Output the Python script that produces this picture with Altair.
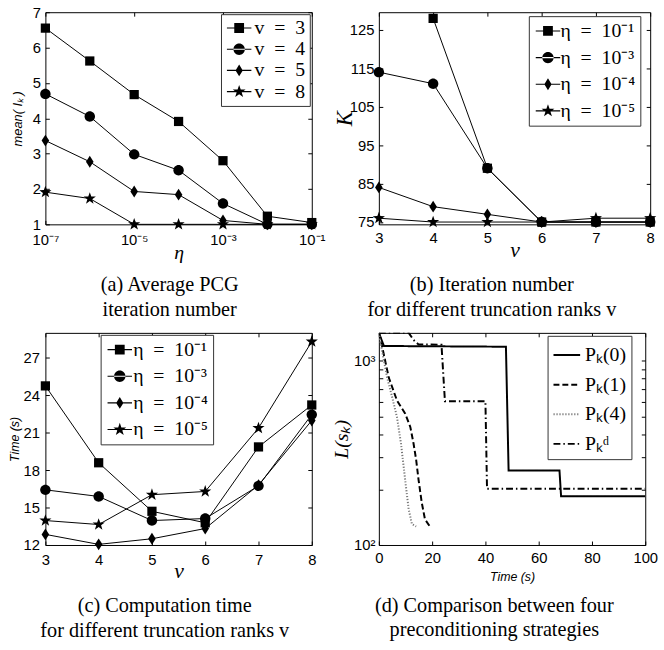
import math
import altair as alt
import pandas as pd

# ---------------- data ----------------
# (a) average PCG iteration number vs eta, for several truncation ranks v
a_eta = [1e-7, 1e-6, 1e-5, 1e-4, 1e-3, 1e-2, 1e-1]
a_v3 = [6.55, 5.62, 4.67, 3.91, 2.80, 1.23, 1.05]
a_v4 = [4.69, 4.05, 2.98, 2.53, 1.59, 1.00, 1.00]
a_v5 = [3.37, 2.77, 1.93, 1.84, 1.11, 1.00, 1.00]
a_v8 = [1.91, 1.73, 1.00, 1.00, 1.00, 1.00, 1.00]
a_names = ["v\u2002=\u20023", "v\u2002=\u20024", "v\u2002=\u20025", "v\u2002=\u20028"]

# (b) iteration number K vs v, (c) time vs v, for several eta
v_ranks = [3, 4, 5, 6, 7, 8]
b_e1 = [None, 128, 89, 75, 75, 75]
b_e3 = [114, 111, 89, 75, 75, 75]
b_e4 = [84, 79, 77, 75, 75, 75]
b_e5 = [76, 75, 75, 75, 76, 76]

c_e1 = [24.75, 18.59, 14.70, 13.78, 19.86, 23.22]
c_e3 = [16.42, 15.89, 13.96, 14.12, 16.74, 22.45]
c_e4 = [12.85, 12.05, 12.50, 13.32, 16.80, 21.98]
c_e5 = [13.96, 13.64, 16.03, 16.29, 21.37, 28.30]
eta_names = ["η\u2002=\u200210⁻¹", "η\u2002=\u200210⁻³", "η\u2002=\u200210⁻⁴", "η\u2002=\u200210⁻⁵"]

# (d) L(s_k) vs time for four preconditioning strategies
d_p0_t = [0, 1.9, 47.7, 48.7, 67.8, 68.4, 100]
d_p0_L = [1420, 1205, 1194, 254, 254, 184, 184]
d_p1_t = [0, 0.4, 3.7, 6.8, 9.9, 11.8, 13.0, 14.0, 14.9, 16.1, 17.3, 19.0]
d_p1_L = [1420, 1363, 813, 609, 517, 438, 357, 290, 226, 170, 138, 127]
d_p4_t = [0, 1.2, 3.1, 5.0, 6.8, 8.3, 9.3, 10.3, 11.2, 12.4, 14.0]
d_p4_L = [1420, 1132, 813, 635, 495, 356, 267, 200, 156, 130, 126]
d_pd_t = [0, 11.2, 13.0, 14.9, 23.5, 24.8, 40.0, 40.6, 100]
d_pd_L = [1420, 1420, 1300, 1229, 1225, 604, 604, 202, 202]
d_names = ["Pₖ(0)", "Pₖ(1)", "Pₖ(4)", "Pₖᵈ"]

captions = {
    "a": ["(a) Average PCG", "iteration number"],
    "b": ["(b) Iteration number", "for different truncation ranks v"],
    "c": ["(c) Computation time", "for different truncation ranks v"],
    "d": ["(d) Comparison between four", "preconditioning strategies"],
}

# ---------------- marker shapes ----------------
def star_path(cx, cy, r, ratio=0.4):
    pts = []
    for k in range(10):
        ang = math.radians(-90 + 36 * k)
        rr = r if k % 2 == 0 else r * ratio
        pts.append((cx + rr * math.cos(ang), cy + rr * math.sin(ang)))
    return "M" + "L".join(f"{x:.3f},{y:.3f}" for x, y in pts) + "Z"

def circle_path(cx, cy, r):
    return (f"M{cx - r:.3f},{cy}A{r},{r},0,1,0,{cx + r:.3f},{cy}"
            f"A{r},{r},0,1,0,{cx - r:.3f},{cy}Z")

def square_path(cx, cy, h):
    return f"M{cx - h:.3f},{cy - h:.3f}H{cx + h:.3f}V{cy + h:.3f}H{cx - h:.3f}Z"

def diamond_path(cx, cy, w, h):
    return f"M{cx:.3f},{cy - h:.3f}L{cx + w:.3f},{cy:.3f}L{cx:.3f},{cy + h:.3f}L{cx - w:.3f},{cy:.3f}Z"

MARKERS = [square_path(0, 0, 0.78), circle_path(0, 0, 0.88),
           diamond_path(0, 0, 0.64, 1.0), star_path(0, 0, 1.08)]
# legend symbol: a thin filled bar (the line) plus the marker in its middle
LINE = "M-1,-0.07H2.1V0.07H-1Z"
LC = 0.55
LEG_MARKERS = [LINE + square_path(LC, 0, 0.62), LINE + circle_path(LC, 0, 0.72),
               LINE + diamond_path(LC, 0, 0.46, 0.75), LINE + star_path(LC, 0, 0.85)]

SANS = "Liberation Sans"
SERIF = "Liberation Serif"
H = 215


def make_axis(values, length, pad, title, tfont, tsize, tstyle, labelExpr=None,
              titleX=None, titleY=None):
    kw = dict(values=values, title=title, grid=True, gridColor="black", gridWidth=1,
              gridOpacity=1, gridDash=[4, length - 8, 4, 5000], ticks=False, tickSize=0,
              domain=False, labelFont=SANS, labelFontSize=15, labelColor="black",
              labelPadding=pad, labelFlush=False, labelOverlap=False, labelBound=False,
              titleFont=tfont, titleFontSize=tsize, titleFontStyle=tstyle,
              titleFontWeight="normal", titleColor="black", titleBaseline="alphabetic")
    if labelExpr:
        kw["labelExpr"] = labelExpr
    if titleX is not None:
        kw["titleX"] = titleX
    if titleY is not None:
        kw["titleY"] = titleY
    return alt.Axis(**kw)


def legend_def(x, y, rowpad, laboff, pad):
    return alt.Legend(title=None, orient="none", legendX=x, legendY=y, direction="vertical",
                      labelFont=SERIF, labelFontSize=20, labelColor="black",
                      labelOffset=laboff, labelLimit=300, symbolSize=256,
                      symbolStrokeColor="black", symbolStrokeWidth=0.5, symbolOpacity=1,
                      symbolFillColor="black",
                      rowPadding=rowpad, padding=pad, strokeColor="#333",
                      fillColor="white", cornerRadius=0)


def caption(key, offset, dx):
    return alt.TitleParams(text=captions[key], orient="bottom", anchor="middle",
                           frame="group", font=SERIF, fontSize=20.5, fontWeight="normal",
                           color="black", lineHeight=25, offset=offset, dx=dx,
                           baseline="top")


def marker_panel(df, xenc, yenc, names, leg, width, cap):
    base = alt.Chart(df)
    line = base.mark_line(color="black", strokeWidth=1).encode(
        x=xenc, y=yenc, detail="series:N")
    pts = base.mark_point(filled=True, color="black", opacity=1, size=144).encode(
        x=xenc, y=yenc,
        shape=alt.Shape("series:N", scale=alt.Scale(domain=names, range=MARKERS), legend=None))
    legl = base.mark_point(filled=True, color="black", opacity=0, size=144).encode(
        x=xenc, y=yenc,
        shape=alt.Shape("series:N", scale=alt.Scale(domain=names, range=LEG_MARKERS), legend=leg))
    return (alt.layer(line, pts, legl)
            .resolve_scale(shape="independent")
            .properties(width=width, height=H, title=cap))


# ---- panel a
dfa = pd.DataFrame({
    "x": a_eta * 4,
    "y": a_v3 + a_v4 + a_v5 + a_v8,
    "series": [n for n in a_names for _ in a_eta],
})
xa = alt.X("x:Q", scale=alt.Scale(type="log", domain=[1e-7, 1e-1], nice=False),
           axis=make_axis([1e-7, 1e-5, 1e-3, 1e-1], H, 8, "η", SERIF, 20, "italic",
                          labelExpr="datum.value < 5e-7 ? '10⁻⁷' : datum.value < 5e-5 ? '10⁻⁵' : datum.value < 5e-3 ? '10⁻³' : '10⁻¹'",
                          titleY=35))
ya = alt.Y("y:Q", scale=alt.Scale(domain=[1, 7], nice=False, zero=False),
           axis=make_axis([1, 2, 3, 4, 5, 6, 7], 270, 5, "mean( Iₖ )", SANS, 13, "italic",
                          titleX=-24))
pa = marker_panel(dfa, xa, ya, a_names, legend_def(178, 2, 1.5, 10, 4), 270, caption("a", 13, -9))

# ---- panel b
rows = []
for name, vals in zip(eta_names, [b_e1, b_e3, b_e4, b_e5]):
    for v, k in zip(v_ranks, vals):
        if k is not None:
            rows.append({"x": v, "y": k, "series": name})
dfb = pd.DataFrame(rows)
xb = alt.X("x:Q", scale=alt.Scale(domain=[3, 8], nice=False, zero=False),
           axis=make_axis(v_ranks, H, 6, "v", SERIF, 22, "italic", titleY=33))
yb = alt.Y("y:Q", scale=alt.Scale(domain=[74.4, 129.6], nice=False, zero=False),
           axis=make_axis([75, 85, 95, 105, 115, 125], 275, 5, "K", SERIF, 23, "italic",
                          titleX=-28))
pb = marker_panel(dfb, xb, yb, eta_names, legend_def(152, 4, 7, 7, 5), 275, caption("b", 15, -23))

# ---- panel c
rows = []
for name, vals in zip(eta_names, [c_e1, c_e3, c_e4, c_e5]):
    for v, t in zip(v_ranks, vals):
        rows.append({"x": v, "y": t, "series": name})
dfc = pd.DataFrame(rows)
xc = alt.X("x:Q", scale=alt.Scale(domain=[3, 8], nice=False, zero=False),
           axis=make_axis(v_ranks, H, 8, "v", SERIF, 22, "italic", titleY=33))
yc = alt.Y("y:Q", scale=alt.Scale(domain=[12, 29], nice=False, zero=False),
           axis=make_axis([12, 15, 18, 21, 24, 27], 270, 6, "Time (s)", SANS, 12.5, "italic",
                          titleX=-27))
pc = marker_panel(dfc, xc, yc, eta_names, legend_def(56, 2, 7, 8, 5), 270, caption("c", 15, -14))

# ---- panel d
rows = []
for name, ts, ls in zip(d_names, [d_p0_t, d_p1_t, d_p4_t, d_pd_t], [d_p0_L, d_p1_L, d_p4_L, d_pd_L]):
    for i, (t, l) in enumerate(zip(ts, ls)):
        rows.append({"t": t, "L": l, "series": name, "order": i})
dfd = pd.DataFrame(rows)
d_leg = alt.Legend(title=None, orient="none", legendX=171, legendY=3, direction="vertical",
                   labelFont=SERIF, labelFontSize=20, labelColor="black", labelOffset=4,
                   labelLimit=300, symbolType="stroke", symbolSize=729, rowPadding=5,
                   padding=5, strokeColor="#333", fillColor="white", cornerRadius=0,
                   symbolOpacity=1)
pd_chart = alt.Chart(dfd).mark_line(clip=True).encode(
    x=alt.X("t:Q", scale=alt.Scale(domain=[0, 100], nice=False),
            axis=make_axis([0, 20, 40, 60, 80, 100], H, 6, "Time (s)", SANS, 12.5, "italic",
                           titleY=36)),
    y=alt.Y("L:Q", scale=alt.Scale(type="log", domain=[100, 1420], nice=False),
            axis=make_axis([100, 200, 300, 400, 500, 600, 700, 800, 900, 1000], 270, 4,
                           "L(sₖ)", SERIF, 20, "italic",
                           labelExpr="datum.value == 100 ? '10²' : (datum.value == 1000 ? '10³' : '')",
                           titleX=-32)),
    order="order:Q",
    color=alt.Color("series:N", scale=alt.Scale(domain=d_names, range=["black", "black", "#777", "black"]), legend=d_leg),
    strokeDash=alt.StrokeDash("series:N", scale=alt.Scale(domain=d_names, range=[[1, 0], [6, 3], [1.2, 1.8], [7, 3, 1.5, 3]]), legend=d_leg),
    strokeWidth=alt.StrokeWidth("series:N", scale=alt.Scale(domain=d_names, range=[2, 2, 1, 1.5]), legend=d_leg),
).properties(width=270, height=H, title=caption("d", 13, -18))

chart = alt.concat(pa, pb, pc, pd_chart, columns=2,
                   spacing={"row": 110, "column": 68}, bounds="flush").resolve_scale(
    color="independent", strokeDash="independent", strokeWidth="independent",
    shape="independent",
).properties(
    padding={"left": 8, "top": 0, "right": 0, "bottom": 0},
    background="white",
).configure_view(stroke="black", strokeWidth=1)

chart.save("out.html", embed_options={"renderer": "svg", "actions": False})
